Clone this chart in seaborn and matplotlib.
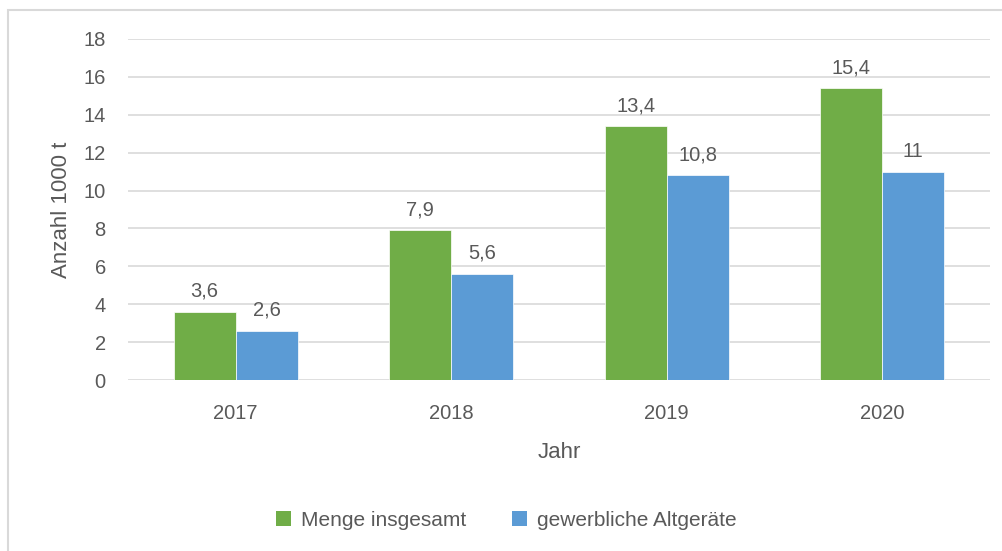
import matplotlib
matplotlib.use("Agg")
import matplotlib.pyplot as plt
import seaborn as sns
import pandas as pd
from matplotlib.patches import Rectangle, Patch

years = ["2017", "2018", "2019", "2020"]
menge = [3.6, 7.9, 13.4, 15.4]
gewerblich = [2.6, 5.6, 10.8, 11.0]
series_names = ["Menge insgesamt", "gewerbliche Altgeräte"]
colors = ["#70AD47", "#5B9BD5"]
yticks = [0, 2, 4, 6, 8, 10, 12, 14, 16, 18]

df = pd.DataFrame({
    "Jahr": years * 2,
    "Wert": menge + gewerblich,
    "Serie": [series_names[0]] * 4 + [series_names[1]] * 4,
})

sns.set_theme(style="white")
plt.rcParams["font.family"] = ["Liberation Sans", "DejaVu Sans"]
txt = "#595959"
grid = "#D9D9D9"

fig = plt.figure(figsize=(10.03, 5.51), dpi=100)
ax = fig.add_axes([128/1003, 1-380/551, (990-128)/1003, (380-39)/551])

sns.barplot(data=df, x="Jahr", y="Wert", hue="Serie", palette=colors,
            width=0.577, ax=ax, legend=False, edgecolor="white", linewidth=0.5,
            saturation=1)

ax.set_ylim(0, 18)
ax.set_xlim(-0.5, 3.5)
ax.set_yticks(yticks)
ax.set_yticklabels([str(v) for v in yticks])
ax.yaxis.grid(True, color=grid, linewidth=1.2)
ax.set_axisbelow(True)
for s in ax.spines.values():
    s.set_visible(False)
ax.tick_params(axis="both", length=0, labelsize=14.5, colors=txt)
ax.tick_params(axis="y", pad=16)
ax.tick_params(axis="x", pad=17)
ax.set_xlabel("Jahr", fontsize=16, color=txt, labelpad=14)
ax.set_ylabel("Anzahl 1000 t", fontsize=16, color=txt)
ax.yaxis.set_label_coords((72 - 128) / 862, 0.5)

def fmt(v):
    return (f"{v:g}").replace(".", ",")

for cont in ax.containers:
    ax.bar_label(cont, labels=[fmt(b.get_height()) for b in cont], padding=8,
                 fontsize=14.5, color=txt)

handles = [Patch(facecolor=c, edgecolor="none") for c in colors]
fig.legend(handles, series_names, loc="center", bbox_to_anchor=(0.505, 1-520/551),
           ncol=2, frameon=False, fontsize=15, labelcolor=txt,
           handlelength=0.7, handleheight=0.7, handletextpad=0.5,
           columnspacing=2.2)

fig.patches.append(Rectangle((8/1003, -0.1), 1.2, 1 - 10/551 + 0.1,
                             transform=fig.transFigure, fill=False,
                             edgecolor="#D9D9D9", linewidth=1.5))

fig.savefig("out.png", dpi=100)
